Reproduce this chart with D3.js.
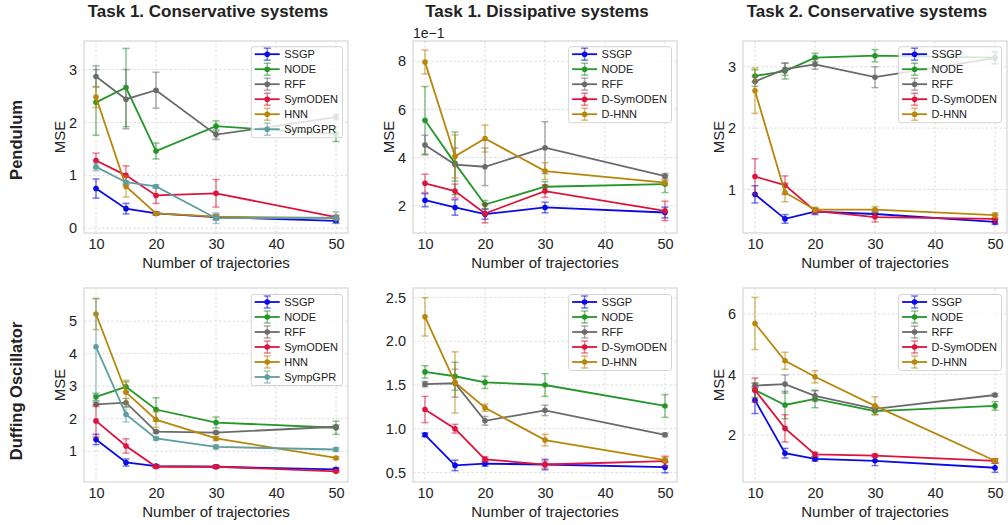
<!DOCTYPE html>
<html>
<head>
<meta charset="utf-8">
<script src="https://cdn.jsdelivr.net/npm/d3@7"></script>
<style>
  html, body { margin: 0; padding: 0; background: #fff; }
  svg text { font-family: "Liberation Sans", Arial, sans-serif; fill: #222; }
</style>
</head>
<body>
<svg id="chart" width="1008" height="525"></svg>
<script>
// ---- data ---------------------------------------------------------------
const trajectories = [10, 15, 20, 30, 50];
const xTicks = [10, 20, 30, 40, 50];

const columnTitles = ["Task 1. Conservative systems", "Task 1. Dissipative systems", "Task 2. Conservative systems"];
const rowTitles = ["Pendulum", "Duffing Oscillator"];

const methodsConservative = ["SSGP", "NODE", "RFF", "SymODEN", "HNN", "SympGPR"];
const methodsDissipative = ["SSGP", "NODE", "RFF", "D-SymODEN", "D-HNN"];

// Pendulum — task 1, conservative (MSE mean, error half-width)
const pendulumConsMean = [
  [0.75, 0.37, 0.28, 0.21, 0.14],
  [2.38, 2.66, 1.46, 1.93, 1.78],
  [2.87, 2.44, 2.61, 1.77, 2.10],
  [1.28, 1.00, 0.62, 0.66, 0.21],
  [2.48, 0.79, 0.28, 0.22, 0.19],
  [1.16, 0.87, 0.79, 0.19, 0.20]
];
const pendulumConsErr = [
  [0.18, 0.10, 0.03, 0.05, 0.04],
  [0.62, 0.74, 0.15, 0.10, 0.14],
  [0.20, 0.56, 0.34, 0.09, 0.06],
  [0.14, 0.18, 0.15, 0.26, 0.03],
  [0.20, 0.20, 0.03, 0.03, 0.03],
  [0.07, 0.03, 0.03, 0.10, 0.11]
];

// Pendulum — task 1, dissipative
const pendulumDissMean = [
  [0.223, 0.193, 0.165, 0.193, 0.172],
  [0.555, 0.376, 0.205, 0.279, 0.290],
  [0.452, 0.371, 0.362, 0.441, 0.323],
  [0.293, 0.261, 0.168, 0.261, 0.179],
  [0.797, 0.405, 0.479, 0.344, 0.296]
];
const pendulumDissErr = [
  [0.027, 0.032, 0.021, 0.022, 0.022],
  [0.140, 0.130, 0.017, 0.021, 0.035],
  [0.041, 0.069, 0.078, 0.108, 0.011],
  [0.038, 0.029, 0.039, 0.026, 0.040],
  [0.049, 0.089, 0.056, 0.035, 0.010]
];

// Pendulum — task 2, conservative
const pendulumTask2Mean = [
  [0.92, 0.52, 0.64, 0.60, 0.47],
  [2.85, 2.93, 3.15, 3.18, 3.15],
  [2.76, 2.96, 3.04, 2.83, 3.14],
  [1.21, 1.07, 0.65, 0.55, 0.52],
  [2.61, 0.95, 0.67, 0.67, 0.58]
];
const pendulumTask2Err = [
  [0.14, 0.07, 0.05, 0.05, 0.04],
  [0.10, 0.13, 0.07, 0.10, 0.10],
  [0.08, 0.10, 0.08, 0.17, 0.09],
  [0.29, 0.15, 0.04, 0.08, 0.07],
  [0.37, 0.15, 0.04, 0.05, 0.04]
];

// Duffing oscillator — task 1, conservative
const duffingConsMean = [
  [1.36, 0.65, 0.54, 0.52, 0.44],
  [2.67, 2.98, 2.28, 1.88, 1.72],
  [2.44, 2.49, 1.60, 1.57, 1.75],
  [1.93, 1.16, 0.52, 0.52, 0.38],
  [5.22, 2.81, 1.97, 1.39, 0.79],
  [4.21, 2.13, 1.39, 1.13, 1.05]
];
const duffingConsErr = [
  [0.16, 0.11, 0.04, 0.05, 0.04],
  [0.11, 0.15, 0.36, 0.17, 0.20],
  [0.07, 0.13, 0.04, 0.04, 0.05],
  [0.49, 0.22, 0.04, 0.04, 0.03],
  [0.48, 0.37, 0.24, 0.06, 0.04],
  [1.48, 0.23, 0.05, 0.06, 0.06]
];

// Duffing oscillator — task 1, dissipative
const duffingDissMean = [
  [0.93, 0.58, 0.60, 0.59, 0.56],
  [1.65, 1.60, 1.53, 1.50, 1.26],
  [1.51, 1.52, 1.09, 1.21, 0.93],
  [1.22, 1.00, 0.65, 0.59, 0.63],
  [2.28, 1.53, 1.24, 0.87, 0.64]
];
const duffingDissErr = [
  [0.02, 0.06, 0.03, 0.06, 0.065],
  [0.07, 0.16, 0.07, 0.13, 0.13],
  [0.03, 0.16, 0.05, 0.06, 0.02],
  [0.15, 0.05, 0.03, 0.04, 0.055],
  [0.22, 0.35, 0.04, 0.065, 0.03]
];

// Duffing oscillator — task 2, conservative
const duffingTask2Mean = [
  [3.15, 1.40, 1.21, 1.15, 0.92],
  [3.48, 2.99, 3.19, 2.79, 2.96],
  [3.63, 3.68, 3.29, 2.86, 3.32],
  [3.48, 2.22, 1.36, 1.32, 1.15],
  [5.68, 4.45, 3.92, 2.96, 1.15]
];
const duffingTask2Err = [
  [0.44, 0.16, 0.07, 0.16, 0.15],
  [0.24, 0.45, 0.29, 0.11, 0.14],
  [0.08, 0.30, 0.17, 0.08, 0.05],
  [0.40, 0.45, 0.07, 0.05, 0.07],
  [0.86, 0.28, 0.20, 0.30, 0.07]
];

// y-axis ticks per panel
const yTicksPendCons = [0, 1, 2, 3];
const yTicksPendDiss = [0.2, 0.4, 0.6, 0.8];
const yTicksPendTask2 = [1, 2, 3];
const yTicksDuffCons = [1, 2, 3, 4, 5];
const yTicksDuffDiss = [0.5, 1.0, 1.5, 2.0, 2.5];
const yTicksDuffTask2 = [2, 4, 6];

// ---- styling ----------------------------------------------------------
const colors = {
  "SSGP": "#0a0ae6",
  "NODE": "#25962a",
  "RFF": "#6b6b6b",
  "SymODEN": "#dc143c",
  "D-SymODEN": "#dc143c",
  "HNN": "#b8860b",
  "D-HNN": "#b8860b",
  "SympGPR": "#5f9ea0"
};

const colX = [84, 413, 743];
const plotW = 264;
const rowY = [41, 288];
const rowH = [192, 194];

const panels = [
  { r: 0, c: 0, names: methodsConservative, mean: pendulumConsMean, err: pendulumConsErr, yDomain: [-0.09, 3.54], yTicks: yTicksPendCons, fmt: d3.format("d"), ylabel: true },
  { r: 0, c: 1, names: methodsDissipative, mean: pendulumDissMean, err: pendulumDissErr, yDomain: [0.087, 0.884], yTicks: yTicksPendDiss, fmt: d => d3.format("d")(Math.round(d * 10)), offset: "1e\u22121", ylabel: true },
  { r: 0, c: 2, names: methodsDissipative, mean: pendulumTask2Mean, err: pendulumTask2Err, yDomain: [0.29, 3.42], yTicks: yTicksPendTask2, fmt: d3.format("d"), ylabel: true },
  { r: 1, c: 0, names: methodsConservative, mean: duffingConsMean, err: duffingConsErr, yDomain: [0.05, 6.02], yTicks: yTicksDuffCons, fmt: d3.format("d"), ylabel: true },
  { r: 1, c: 1, names: methodsDissipative, mean: duffingDissMean, err: duffingDissErr, yDomain: [0.39, 2.61], yTicks: yTicksDuffDiss, fmt: d3.format(".1f"), ylabel: false },
  { r: 1, c: 2, names: methodsDissipative, mean: duffingTask2Mean, err: duffingTask2Err, yDomain: [0.45, 6.85], yTicks: yTicksDuffTask2, fmt: d3.format("d"), ylabel: true }
];

const svg = d3.select("#chart");

// column titles
columnTitles.forEach((t, i) => {
  svg.append("text")
    .attr("x", colX[i] + plotW / 2 - 8)
    .attr("y", 17)
    .attr("text-anchor", "middle")
    .style("font-size", "17px")
    .style("font-weight", "bold")
    .text(t);
});

// row titles
const rowLabelY = [140, 391];
rowTitles.forEach((t, i) => {
  svg.append("text")
    .attr("transform", `translate(22,${rowLabelY[i]}) rotate(-90)`)
    .attr("text-anchor", "middle")
    .style("font-size", "16.5px")
    .style("font-weight", "bold")
    .text(t);
});

panels.forEach((p, pi) => {
  const x0 = colX[p.c], y0 = rowY[p.r], h = rowH[p.r];
  const g = svg.append("g").attr("transform", `translate(${x0},${y0})`);

  const x = d3.scaleLinear().domain([8, 52]).range([0, plotW]);
  const y = d3.scaleLinear().domain(p.yDomain).range([h, 0]);

  // grid
  const grid = g.append("g");
  grid.selectAll("line.gx").data(xTicks).join("line")
    .attr("x1", d => x(d)).attr("x2", d => x(d))
    .attr("y1", 0).attr("y2", h)
    .attr("stroke", "#d4d4d4").attr("stroke-width", 0.8)
    .attr("stroke-dasharray", "2.5,2");
  grid.selectAll("line.gy").data(p.yTicks).join("line")
    .attr("x1", 0).attr("x2", plotW)
    .attr("y1", d => y(d)).attr("y2", d => y(d))
    .attr("stroke", "#d4d4d4").attr("stroke-width", 0.8)
    .attr("stroke-dasharray", "2.5,2");

  // axes (labels only, no tick marks)
  const xAxis = g.append("g").attr("transform", `translate(0,${h})`)
    .call(d3.axisBottom(x).tickValues(xTicks).tickSize(0).tickPadding(6).tickFormat(d3.format("d")));
  const yAxis = g.append("g")
    .call(d3.axisLeft(y).tickValues(p.yTicks).tickSize(0).tickPadding(7).tickFormat(p.fmt));
  [xAxis, yAxis].forEach(a => {
    a.select(".domain").remove();
    a.selectAll("text").style("font-size", "14.5px").attr("fill", "#222")
      .style("font-family", "\"Liberation Sans\", Arial, sans-serif");
  });

  if (p.offset) {
    g.append("text").attr("x", 0).attr("y", -3)
      .style("font-size", "14px").text(p.offset);
  }

  // axis labels
  g.append("text")
    .attr("x", plotW / 2).attr("y", h + 34.5)
    .attr("text-anchor", "middle")
    .style("font-size", "15px")
    .text("Number of trajectories");
  if (p.ylabel) {
    g.append("text")
      .attr("transform", `translate(-19,${h / 2}) rotate(-90)`)
      .attr("text-anchor", "middle")
      .style("font-size", "15px")
      .text("MSE");
  }

  // clip
  const clipId = "clip" + pi;
  g.append("clipPath").attr("id", clipId)
    .append("rect").attr("width", plotW).attr("height", h);
  const plot = g.append("g").attr("clip-path", `url(#${clipId})`);

  const line = d3.line().x(d => x(d.t)).y(d => y(d.m));

  p.names.forEach((name, si) => {
    const col = colors[name];
    const pts = trajectories.map((t, k) => ({ t, m: p.mean[si][k], e: p.err[si][k] }));
    const sg = plot.append("g");
    // error bars
    const eb = sg.append("g").attr("stroke", col).attr("stroke-opacity", 0.55).attr("stroke-width", 1.5);
    pts.forEach(d => {
      const cx = x(d.t), yt = y(d.m + d.e), yb = y(d.m - d.e);
      eb.append("line").attr("x1", cx).attr("x2", cx).attr("y1", yt).attr("y2", yb);
      eb.append("line").attr("x1", cx - 3.5).attr("x2", cx + 3.5).attr("y1", yt).attr("y2", yt);
      eb.append("line").attr("x1", cx - 3.5).attr("x2", cx + 3.5).attr("y1", yb).attr("y2", yb);
    });
    sg.append("path").datum(pts).attr("d", line)
      .attr("fill", "none").attr("stroke", col).attr("stroke-width", 1.8);
    sg.selectAll("circle").data(pts).join("circle")
      .attr("cx", d => x(d.t)).attr("cy", d => y(d.m)).attr("r", 2.8)
      .attr("fill", col);
  });

  // frame
  g.append("rect").attr("width", plotW).attr("height", h)
    .attr("fill", "none").attr("stroke", "#d9d9d9").attr("stroke-width", 1.3);

  // legend
  const lg = g.append("g");
  const box = lg.append("rect").attr("fill", "#fff").attr("fill-opacity", 0.8)
    .attr("stroke", "#cfcfcf").attr("stroke-width", 0.9).attr("rx", 2.5);
  let maxW = 0;
  p.names.forEach((name, i) => {
    const ig = lg.append("g").attr("transform", `translate(0,${7.5 + i * 15})`);
    const col = colors[name];
    ig.append("line").attr("x1", 3.5).attr("x2", 28.5).attr("y1", 0).attr("y2", 0)
      .attr("stroke", col).attr("stroke-width", 1.8);
    const ebar = ig.append("g").attr("stroke", col).attr("stroke-opacity", 0.55).attr("stroke-width", 1.5);
    ebar.append("line").attr("x1", 16).attr("x2", 16).attr("y1", -6).attr("y2", 6);
    ebar.append("line").attr("x1", 12.5).attr("x2", 19.5).attr("y1", -6).attr("y2", -6);
    ebar.append("line").attr("x1", 12.5).attr("x2", 19.5).attr("y1", 6).attr("y2", 6);
    ig.append("circle").attr("cx", 16).attr("cy", 0).attr("r", 2.8).attr("fill", col);
    const tx = ig.append("text").attr("x", 33).attr("y", 0).attr("dy", "0.35em")
      .style("font-size", "11px").text(name);
    maxW = Math.max(maxW, tx.node().getComputedTextLength());
  });
  const lw = 33 + maxW + 4.5;
  const lh = p.names.length * 15 + 1;
  box.attr("width", lw).attr("height", lh);
  lg.attr("transform", `translate(${plotW - 5.5 - lw},${p.r === 0 ? 5.7 : 6.5})`);
});
</script>
</body>
</html>
